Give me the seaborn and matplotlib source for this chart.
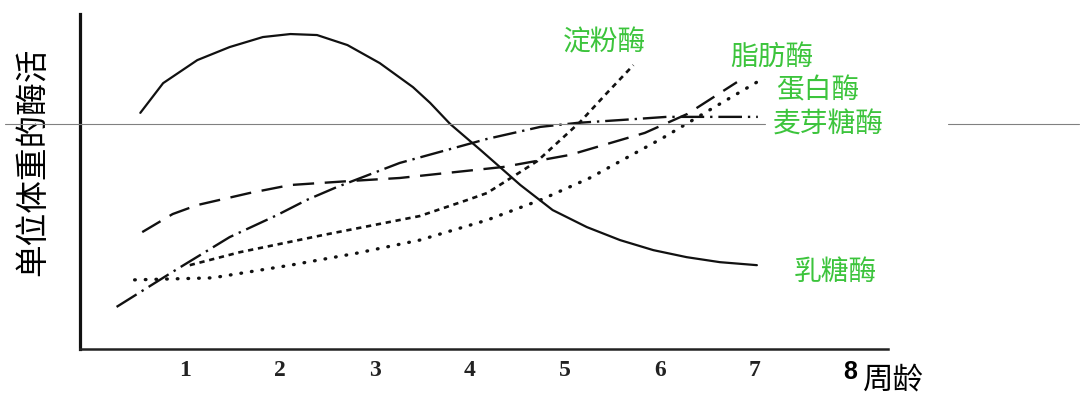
import matplotlib
matplotlib.use("Agg")
import matplotlib.pyplot as plt
import seaborn as sns
from matplotlib.lines import Line2D

sns.set_theme(style="white")
plt.rcParams["font.family"] = ["Noto Sans CJK SC", "DejaVu Sans"]

# ---- data (weeks, relative enzyme activity) ----
lactase_w = [0.53, 0.77, 1.13, 1.47, 1.82, 2.11, 2.39, 2.71, 3.05, 3.40, 3.58, 3.79, 4.11,
             4.53, 4.87, 5.23, 5.58, 5.93, 6.28, 6.63, 7.02]
lactase_v = [7.07, 7.96, 8.65, 9.04, 9.34, 9.43, 9.40, 9.10, 8.56, 7.84, 7.37, 6.74, 5.96,
             4.91, 4.16, 3.65, 3.26, 2.96, 2.75, 2.60, 2.51]

maltase_w = [0.28, 0.87, 1.47, 1.97, 2.28, 2.60, 3.26, 4.18, 4.74, 5.13, 5.61, 6.07, 7.03]
maltase_v = [1.26, 2.31, 3.35, 4.01, 4.46, 4.85, 5.57, 6.29, 6.65, 6.77, 6.86, 6.95, 6.95]

lipase_w = [0.55, 0.87, 1.13, 1.68, 2.11, 2.74, 3.26, 4.35, 5.05, 5.84, 6.29, 6.81]
lipase_v = [3.50, 4.04, 4.31, 4.67, 4.91, 5.03, 5.12, 5.45, 5.81, 6.47, 7.04, 7.99]

protease_w = [0.47, 1.29, 2.11, 2.81, 3.47, 4.18, 4.74, 5.26, 6.03, 6.56, 7.02]
protease_v = [2.07, 2.13, 2.51, 2.87, 3.26, 3.86, 4.46, 5.12, 6.32, 7.22, 7.99]

amylase_w = [1.05, 1.58, 2.45, 3.47, 3.97, 4.18, 4.53, 4.71, 5.16, 5.44, 5.72]
amylase_v = [2.51, 2.90, 3.41, 3.98, 4.46, 4.67, 5.30, 5.63, 6.80, 7.66, 8.50]

week_ticks = [1, 2, 3, 4, 5, 6, 7, 8]
week_labels = ["1", "2", "3", "4", "5", "6", "7", "8"]

GREEN = "#3cc43c"

fig = plt.figure(figsize=(10.8, 4.03), dpi=100)
ax = fig.add_axes([80 / 1080, 54 / 403, 808 / 1080, 335 / 403])

sns.lineplot(x=lactase_w, y=lactase_v, ax=ax, color="#111111", linewidth=1.6, errorbar=None)
sns.lineplot(x=maltase_w, y=maltase_v, ax=ax, color="#111111", linewidth=1.7, errorbar=None,
             linestyle=(0, (10, 2.5, 1, 2.5)))
sns.lineplot(x=lipase_w, y=lipase_v, ax=ax, color="#111111", linewidth=1.7, errorbar=None,
             linestyle=(0, (9, 4.5)))
sns.lineplot(x=protease_w, y=protease_v, ax=ax, color="#111111", linewidth=2.4, errorbar=None,
             linestyle=(0, (0.2, 3.0)), dash_capstyle="round")
sns.lineplot(x=amylase_w, y=amylase_v, ax=ax, color="#111111", linewidth=1.9, errorbar=None,
             linestyle=(0, (2, 1.8)))

ax.set_xlim(-0.105, 8.4)
ax.set_ylim(0, 10.03)
ax.set_yticks([])
ax.set_xticks(week_ticks)
ax.set_xticklabels(week_labels, family="Liberation Serif", fontsize=17,
                   fontweight="bold", color="#222222")
lab8 = ax.get_xticklabels()[-1]
lab8.set_family("Liberation Sans")
lab8.set_fontsize(18)
lab8.set_color("black")
ax.tick_params(axis="x", direction="in", length=5, width=2, color="#111111", pad=8)
ax.set_xlabel("")
ax.set_ylabel("")

sns.despine(ax=ax)
ax.spines["left"].set_linewidth(2.3)
ax.spines["left"].set_color("#111111")
ax.spines["bottom"].set_linewidth(1.8)
ax.spines["bottom"].set_color("#222222")

# enzyme labels
ax.text(5.42, 9.19, "淀粉酶", color=GREEN, fontsize=20, ha="center", va="center")
ax.text(7.18, 8.74, "脂肪酶", color=GREEN, fontsize=20, ha="center", va="center")
ax.text(7.66, 7.75, "蛋白酶", color=GREEN, fontsize=20, ha="center", va="center")
ax.text(7.77, 6.71, "麦芽糖酶", color=GREEN, fontsize=20, ha="center", va="center")
ax.text(7.85, 2.31, "乳糖酶", color=GREEN, fontsize=20, ha="center", va="center")

# axis titles
fig.text(33 / 1080, 1 - 162 / 403, "单位体重的酶活", rotation=90, fontsize=23.5,
         ha="center", va="center", color="black")
fig.text(863 / 1080, 1 - 380 / 403, "周龄", fontsize=22, ha="left", va="center", color="black")

# thin grey rule across the picture
for x0, x1 in [(5, 765), (948, 1079)]:
    fig.add_artist(Line2D([x0 / 1080, x1 / 1080], [1 - 124 / 403, 1 - 124 / 403],
                          color="#808080", linewidth=0.8, zorder=10))

fig.savefig("out.png", dpi=100)
